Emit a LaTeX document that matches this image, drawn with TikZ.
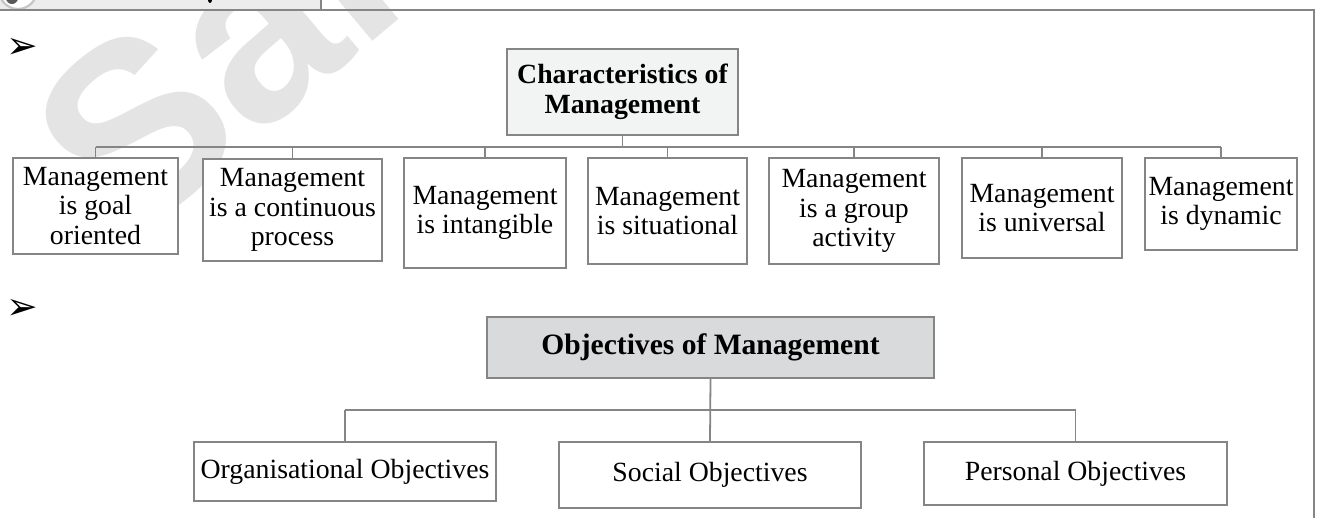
\documentclass[tikz,border=0pt]{standalone}
\usepackage{fontspec}
\setmainfont{Liberation Serif}
\newfontfamily\markfont{Liberation Sans}
\newfontfamily\bulletfont{DejaVu Sans}
\usetikzlibrary{
    positioning
}
\definecolor{rulegray}{HTML}{858585}
\definecolor{headfill}{HTML}{F2F3F3}
\definecolor{objfill}{HTML}{D9DADB}
\definecolor{tabfill}{HTML}{ECECEC}
\definecolor{markgray}{HTML}{E4E4E4}
\tikzset{
    box/.style={draw=rulegray, fill=white, line width=0.55pt, inner sep=0pt, align=center,
        font=\fontsize{12.5}{13.3}\selectfont},
    headbox/.style={box, fill=headfill, font=\bfseries\fontsize{12.5}{13.3}\selectfont},
    objbox/.style={box, fill=objfill, font=\bfseries\fontsize{13.3}{14}\selectfont},
    link/.style={draw=rulegray, line width=0.55pt},
    thicklink/.style={draw=rulegray, line width=0.8pt},
    bullet/.style={inner sep=0pt, font=\bulletfont\fontsize{17}{17}\selectfont}
}

\begin{document}
\begin{tikzpicture}[x=0.45pt, y=-0.45pt]
                        \useasboundingbox (0, 0) rectangle (1319, 518);
                        \clip (0, 0) rectangle (1319, 518);

                        % watermark
                        \node[rotate=40, anchor=base west, inner sep=0pt, text=markgray,
                            font=\markfont\bfseries\fontsize{112}{112}\selectfont] (mark) at (126, 248) {Sam};

                        % page header
                        \fill[tabfill] (0, 0) rectangle (321, 9);
                        \draw[gray!45, fill=white, line width=1pt] (18, -10) circle (19);
                        \fill[gray!70!black] (12, -2) circle (6);
                        \fill (210, 0) ellipse (2 and 3);
                        \draw[rulegray, line width=0.7pt] (321, 0) -- (321, 9.5);
                        \draw[rulegray, line width=0.9pt] (0, 9.5) -- (1314, 9.5) -- (1314, 518);

                        \node[bullet] (bulA) at (22, 48) {➢};
                        \node[bullet] (bulB) at (22, 309) {➢};

                        \coordinate (busA) at (0, 147);
                        \coordinate (busB) at (0, 410);

                        \node[headbox, minimum width=103.95pt, minimum height=38.7pt] (chars) at (622.5, 92) {Characteristics of\\Management};

                        \node[box, minimum width=74.25pt, minimum height=43.2pt] (goal) at (95.5, 206) {Management\\is goal\\oriented};
                        \node[box, minimum width=80.55pt, minimum height=45.9pt] (cont) at (292.5, 210) {Management\\is a continuous\\process};
                        \node[box, minimum width=72.9pt, minimum height=49.5pt] (intang) at (485, 213) {Management\\is intangible};
                        \node[box, minimum width=71.55pt, minimum height=47.7pt] (situ) at (667.5, 211) {Management\\is situational};
                        \node[box, minimum width=76.5pt, minimum height=47.7pt] (group) at (854, 211) {Management\\is a group\\activity};
                        \node[box, minimum width=72pt, minimum height=45pt] (univ) at (1042, 208) {Management\\is universal};
                        \node[box, minimum width=68.4pt, minimum height=41.4pt] (dyn) at (1221, 204) {Management\\is dynamic};

                        \draw[link] (chars.south) -- (chars.south |- busA);
                        \draw[link] (goal.north |- busA) -- (dyn.north |- busA);
                        \foreach \b in {goal, cont, intang, situ, group, univ, dyn}
                            \draw[link] (\b.north |- busA) -- (\b.north);

                        \node[objbox, minimum width=201.15pt, minimum height=27.45pt] (obj) at (710.5, 347.5) {Objectives of Management};

                        \node[box, minimum width=135.9pt, minimum height=26.55pt] (org) at (345, 471.5) {Organisational Objectives};
                        \node[box, minimum width=135.9pt, minimum height=29.7pt] (soc) at (710, 475) {Social Objectives};
                        \node[box, minimum width=136.35pt, minimum height=28.35pt] (per) at (1075.5, 473.5) {Personal Objectives};

                        \draw[thicklink] (obj.south) -- (soc.north);
                        \draw[thicklink] (org.north |- busB) -- (per.north |- busB);
                        \draw[thicklink] (org.north |- busB) -- (org.north);
                        \draw[thicklink] (per.north |- busB) -- (per.north);
                    \end{tikzpicture}
\end{document}
